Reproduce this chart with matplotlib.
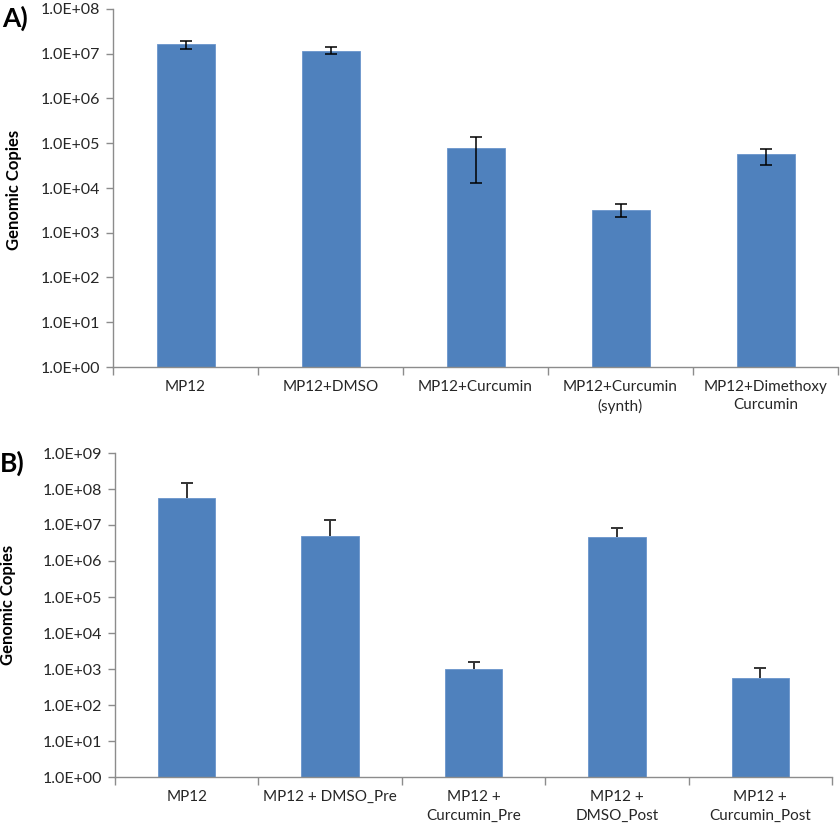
import numpy as np
import matplotlib
matplotlib.use("Agg")
import matplotlib.pyplot as plt
from matplotlib.ticker import FixedLocator, FuncFormatter

plt.rcParams['font.family'] = ['Lato', 'DejaVu Sans']

# Panel A data
cats_a = ["MP12", "MP12+DMSO", "MP12+Curcumin", "MP12+Curcumin\n(synth)", "MP12+Dimethoxy\nCurcumin"]
vals_a = [1.63e7, 1.14e7, 7.7e4, 3.3e3, 5.7e4]
err_top_a = [1.96e7, 1.41e7, 1.4e5, 4.3e3, 7.5e4]
err_bot_a = [1.30e7, 9.9e6, 1.28e4, 2.3e3, 3.35e4]

# Panel B data
cats_b = ["MP12", "MP12 + DMSO_Pre", "MP12 +\nCurcumin_Pre", "MP12 +\nDMSO_Post", "MP12 +\nCurcumin_Post"]
vals_b = [5.5e7, 5.0e6, 1.0e3, 4.6e6, 5.6e2]
err_top_b = [1.5e8, 1.38e7, 1.55e3, 8.3e6, 1.1e3]

bar_color = "#4F81BD"
spine_color = "#8C8C8C"
text_color = "#262626"

fig = plt.figure(figsize=(8.4, 8.3), dpi=100)
ax_a = fig.add_axes([113/840, 1-367/830, 725/840, 358/830])
ax_b = fig.add_axes([115/840, 1-777/830, 717/840, 324/830])

def fmt(v, pos):
    return "1.0E+%02d" % int(round(np.log10(v)))

def style(ax, cats, ymax_exp):
    n = len(cats)
    ax.set_yscale('log')
    ax.set_ylim(1, 10**ymax_exp)
    ax.set_xlim(-0.5, n - 0.5)
    ax.yaxis.set_major_locator(FixedLocator([10**k for k in range(ymax_exp + 1)]))
    ax.yaxis.set_minor_locator(FixedLocator([]))
    ax.yaxis.set_major_formatter(FuncFormatter(fmt))
    ax.set_xticks(range(n))
    ax.set_xticklabels(cats, fontsize=11, color=text_color, linespacing=1.45)
    ax.set_xticks(np.arange(-0.5, n, 1.0), minor=True)
    ax.tick_params(axis='x', which='major', length=0, pad=9)
    ax.tick_params(axis='x', which='minor', length=6, color=spine_color, width=1)
    ax.tick_params(axis='y', which='major', length=5, color=spine_color, width=1,
                   labelsize=11.5, labelcolor=text_color, pad=4)
    for s in ('top', 'right'):
        ax.spines[s].set_visible(False)
    for s in ('left', 'bottom'):
        ax.spines[s].set_color(spine_color)
        ax.spines[s].set_linewidth(1)

x = np.arange(len(cats_a))
va = np.array(vals_a)
ax_a.bar(x, va, width=0.4, color=bar_color, edgecolor="#6A95CC", linewidth=0.6, zorder=2)
ax_a.errorbar(x, va, yerr=[va - np.array(err_bot_a), np.array(err_top_a) - va],
              fmt='none', ecolor='black', elinewidth=1.1, capsize=4, capthick=1.1, zorder=3)
style(ax_a, cats_a, 8)

xb = np.arange(len(cats_b))
vb = np.array(vals_b)
ax_b.bar(xb, vb, width=0.4, color=bar_color, edgecolor="#6A95CC", linewidth=0.6, zorder=2)
eb = ax_b.errorbar(xb, vb, yerr=[np.zeros_like(vb), np.array(err_top_b) - vb],
                   fmt='none', ecolor='#333333', elinewidth=1.4, capsize=4.5, capthick=1.4, zorder=3)
eb[1][0].set_visible(False)
style(ax_b, cats_b, 9)

fig.text(14/840, 1-190/830, "Genomic Copies", rotation=90, fontsize=12,
         fontweight='bold', color='black', ha='center', va='center')
fig.text(8/840, 1-605/830, "Genomic Copies", rotation=90, fontsize=12,
         fontweight='bold', color='black', ha='center', va='center')
fig.text(2/840, 1-18/830, "A)", fontsize=19, fontweight='bold', ha='left', va='center')
fig.text(0/840, 1-463/830, "B)", fontsize=19, fontweight='bold', ha='left', va='center')

fig.savefig("out.png", dpi=100)
